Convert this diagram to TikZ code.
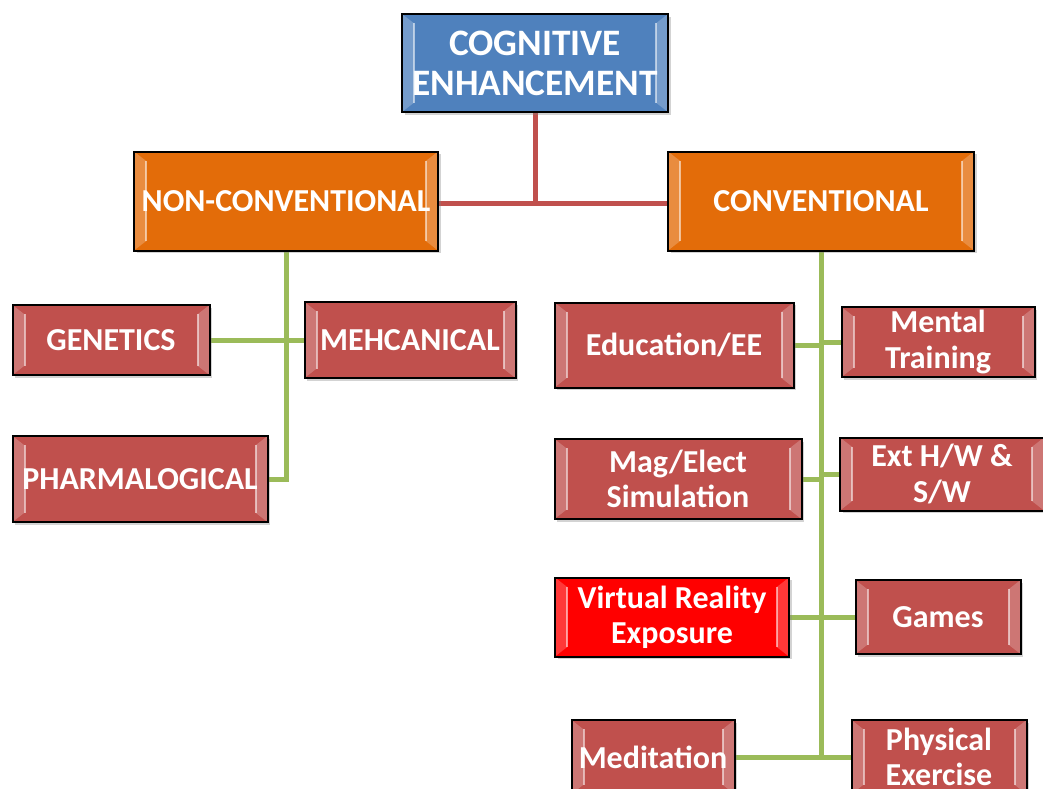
\documentclass[tikz,border=0pt]{standalone}
\usepackage{fontspec}
\setmainfont{Carlito}
\usetikzlibrary{shadows,calc,backgrounds}
\definecolor{cogblue}{HTML}{4F81BD}
\definecolor{catorange}{HTML}{E36C09}
\definecolor{boxred}{HTML}{C0504D}
\definecolor{vrred}{HTML}{FF0000}
\definecolor{linered}{HTML}{C0504D}
\definecolor{linegreen}{HTML}{9BBB59}
\tikzset{
  bevelbox/.style={draw=black, line width=1.5pt, inner sep=0pt, outer sep=0pt,
    align=center, text=white, font=\bfseries\fontsize{24}{26.3}\selectfont,
    drop shadow={opacity=0.35, shadow xshift=2pt, shadow yshift=-2pt},
    path picture={
      \fill[white,opacity=0.22] (path picture bounding box.north west) -- ($(path picture bounding box.north west)+(9pt,-7pt)$)
        -- ($(path picture bounding box.south west)+(9pt,7pt)$) -- (path picture bounding box.south west) -- cycle;
      \fill[white,opacity=0.22] (path picture bounding box.north east) -- ($(path picture bounding box.north east)+(-9pt,-7pt)$)
        -- ($(path picture bounding box.south east)+(-9pt,7pt)$) -- (path picture bounding box.south east) -- cycle;
      \draw[white,opacity=0.55,line width=1.5pt] ($(path picture bounding box.north west)+(9pt,-7pt)$) -- ($(path picture bounding box.south west)+(9pt,7pt)$);
      \draw[white,opacity=0.55,line width=1.5pt] ($(path picture bounding box.north east)+(-9pt,-7pt)$) -- ($(path picture bounding box.south east)+(-9pt,7pt)$);
    }},
  boxsize/.style 2 args={minimum width={#1*0.75pt}, minimum height={#2*0.75pt}},
  topbox/.style={bevelbox, fill=cogblue, font=\bfseries\fontsize{28}{30}\selectfont},
  catbox/.style={bevelbox, fill=catorange},
  itembox/.style={bevelbox, fill=boxred},
  hotbox/.style={bevelbox, fill=vrred},
  redconn/.style={draw=linered, line width=3.75pt},
  greenconn/.style={draw=linegreen, line width=3.75pt},
}
\begin{document}
\begin{tikzpicture}[x=0.75pt,y=-0.75pt]
\useasboundingbox (0,0) rectangle (1043,789);
\clip (0,0) rectangle (1043,789);

\node[topbox, boxsize={266}{98}] (cog) at (535,63) {COGNITIVE\\ENHANCEMENT};
\node[catbox, boxsize={304}{99}] (nonconv) at (286,201) {NON-CONVENTIONAL};
\node[catbox, boxsize={306}{99}] (conv) at (821,201) {CONVENTIONAL};

\node[itembox, boxsize={197}{70}] (gen) at (111,340) {GENETICS};
\node[itembox, boxsize={211}{76}] (mech) at (410,340) {MEHCANICAL};
\node[itembox, boxsize={255}{86}] (pharma) at (140,479) {PHARMALOGICAL};

\node[itembox, boxsize={239}{85}] (edu) at (674,345) {Education/EE};
\node[itembox, boxsize={193}{70}] (mental) at (938,342) {Mental\\Training};
\node[itembox, boxsize={247}{80}] (mag) at (678,479) {Mag/Elect\\Simulation};
\node[itembox, boxsize={204}{73}] (ext) at (942,474) {Ext H/W \&\\S/W};
\node[hotbox, boxsize={234}{79}] (vr) at (672,617) {Virtual Reality\\Exposure};
\node[itembox, boxsize={165}{74}] (games) at (938,617) {Games};
\node[itembox, boxsize={163}{74}] (med) at (653,757) {Meditation};
\node[itembox, boxsize={175}{74}] (phys) at (939,757) {Physical\\Exercise};

\begin{pgfonlayer}{background}
\draw[redconn] (cog.south) -- (cog.south |- 0,203);
\draw[redconn] (nonconv.east |- 0,203) -- (conv.west |- 0,203);

\draw[greenconn] (nonconv.south) |- (pharma.east);
\draw[greenconn] (gen.east) -- (mech.west);

\draw[greenconn] (conv.south) -- (conv.south |- med.east);
\draw[greenconn] (edu.east) -- (edu.east -| conv.south);
\draw[greenconn] (mental.west) -- (mental.west -| conv.south);
\draw[greenconn] (mag.east) -- (mag.east -| conv.south);
\draw[greenconn] (ext.west) -- (ext.west -| conv.south);
\draw[greenconn] (vr.east) -- (games.west);
\draw[greenconn] (med.east) -- (phys.west);
\end{pgfonlayer}
\end{tikzpicture}
\end{document}
